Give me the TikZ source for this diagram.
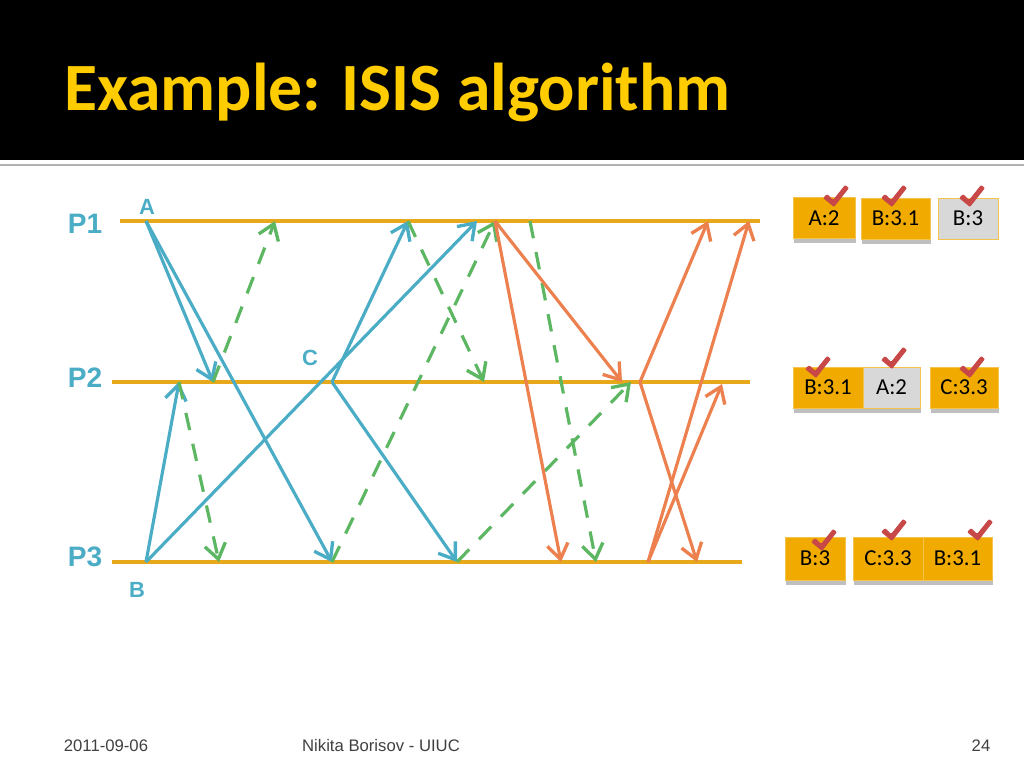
\documentclass[tikz,border=0pt]{standalone}
\usepackage{fontspec}
\setmainfont{Liberation Sans}
\newfontfamily\carlito{Carlito}
\usetikzlibrary{arrows.meta, shadows}
\definecolor{titleyellow}{RGB}{255,204,0}
\definecolor{lineorange}{RGB}{232,168,28}
\definecolor{msgblue}{RGB}{75,172,198}
\definecolor{msggreen}{RGB}{92,182,98}
\definecolor{msgorange}{RGB}{236,128,78}
\definecolor{boxorange}{RGB}{240,170,0}
\definecolor{boxgray}{RGB}{216,216,216}
\definecolor{tickred}{RGB}{200,72,72}
\definecolor{footgray}{RGB}{64,64,64}
\tikzset{
    slidetitle/.style={text=titleyellow, inner sep=0pt, font=\carlito\bfseries\fontsize{38.5}{42}\selectfont},
    timeline/.style={draw=lineorange, line width=2.4pt},
    procname/.style={text=msgblue, inner sep=0pt, font=\bfseries\fontsize{16}{18}\selectfont},
    evname/.style={text=msgblue, inner sep=0pt, font=\bfseries\fontsize{12.5}{14}\selectfont},
    arrow/.style={-{Straight Barb[length=3mm, width=4.2mm, line width=1.9pt]}, line width=1.8pt},
    bluemsg/.style={arrow, draw=msgblue},
    greenmsg/.style={arrow, draw=msggreen, dash pattern=on 10pt off 8pt},
    orangemsg/.style={arrow, draw=msgorange},
    msgbox/.style={rectangle, draw=boxorange!70!white, fill=boxorange, line width=0.5pt, minimum height=0.82cm, inner sep=0pt, font=\carlito\fontsize{13}{15}\selectfont},
    graybox/.style={msgbox, fill=boxgray},
    shadowed/.style={drop shadow={shadow xshift=0.8pt, shadow yshift=-2.6pt, opacity=0.5}},
    footer/.style={text=footgray, inner sep=0pt, font=\fontsize{9.5}{11}\selectfont},
    tickmark/.pic={\fill[tickred, rounded corners=0.6pt] (-10,-7) -- (-6,-11) -- (0,-5) -- (12,-20) -- (16,-17) -- (1,2) -- cycle;}
}
\begin{document}
\begin{tikzpicture}[x=0.02cm, y=-0.02cm]
\useasboundingbox (0,0) rectangle (1024,768);
\fill[black] (0,0) rectangle (1024,160);
\draw[gray!60, line width=1.4pt] (0,165) -- (1024,165);
\node[slidetitle, anchor=base west] (title) at (64,110) {Example: ISIS algorithm};

\draw[timeline] (120,221) -- (760,221);
\draw[timeline] (112,382) -- (750,382);
\draw[timeline] (112,562) -- (742,562);
\node[procname] (p1) at (85,224) {P1};
\node[procname] (p2) at (85,378) {P2};
\node[procname] (p3) at (85,557) {P3};
\node[evname] (la) at (147,207) {A};
\node[evname] (lc) at (310,358) {C};
\node[evname] (lb) at (137,590) {B};

\coordinate (a) at (146,221);
\coordinate (b) at (146,562);
\coordinate (c) at (332,382);
\coordinate (a2) at (213,382);
\coordinate (a3) at (332,562);
\coordinate (b2) at (179,382);
\coordinate (b1) at (477,221);
\coordinate (c1) at (408,221);
\coordinate (c3) at (457,562);
\coordinate (g1) at (275,221);
\coordinate (g2) at (219,562);
\coordinate (g3) at (484,382);
\coordinate (g4) at (495,221);
\coordinate (g5s) at (530,221);
\coordinate (g5) at (596,562);
\coordinate (g6) at (631,382);
\coordinate (o1) at (622,382);
\coordinate (o2) at (561,562);
\coordinate (o3s) at (640,382);
\coordinate (o3) at (708,221);
\coordinate (o4) at (697,562);
\coordinate (o5s) at (648,562);
\coordinate (o5) at (749,221);
\coordinate (o6) at (722,384);

\draw[bluemsg] (a) -- (a2);
\draw[bluemsg] (a) -- (a3);
\draw[bluemsg] (b) -- (b2);
\draw[bluemsg] (b) -- (b1);
\draw[bluemsg] (c) -- (c1);
\draw[bluemsg] (c) -- (c3);
\draw[greenmsg] (a2) -- (g1);
\draw[greenmsg] (b2) -- (g2);
\draw[greenmsg] (c1) -- (g3);
\draw[greenmsg] (a3) -- (g4);
\draw[greenmsg] (g5s) -- (g5);
\draw[greenmsg] (c3) -- (g6);
\draw[orangemsg] (g4) -- (o1);
\draw[orangemsg] (g4) -- (o2);
\draw[orangemsg] (o3s) -- (o3);
\draw[orangemsg] (o3s) -- (o4);
\draw[orangemsg] (o5s) -- (o5);
\draw[orangemsg] (o5s) -- (o6);

\node[msgbox, shadowed, minimum width=1.24cm] (q1a) at (824,218) {A:2};
\node[msgbox, shadowed, minimum width=1.38cm] (q1b) at (895.5,218.5) {B:3.1};
\node[graybox, minimum width=1.2cm] (q1c) at (968,218.5) {B:3};
\node[msgbox, shadowed, minimum width=1.4cm] (q2a) at (828,387.5) {B:3.1};
\node[graybox, shadowed, minimum width=1.14cm] (q2b) at (891.5,387.5) {A:2};
\node[msgbox, shadowed, minimum width=1.36cm] (q2c) at (964,387.5) {C:3.3};
\node[msgbox, shadowed, minimum width=1.2cm, minimum height=0.86cm] (q3a) at (815,558.5) {B:3};
\node[msgbox, shadowed, minimum width=1.4cm, minimum height=0.86cm] (q3b) at (888,558.5) {C:3.3};
\node[msgbox, shadowed, minimum width=1.38cm, minimum height=0.86cm] (q3c) at (957.5,558.5) {B:3.1};

\pic at (833,205) {tickmark};
\pic at (891,205) {tickmark};
\pic at (969,205) {tickmark};
\pic at (815,376) {tickmark};
\pic at (891,367) {tickmark};
\pic at (969,376) {tickmark};
\pic at (821,549) {tickmark};
\pic at (891,539) {tickmark};
\pic at (977,539) {tickmark};

\node[footer] (date) at (106,746) {2011-09-06};
\node[footer] (author) at (381,746) {Nikita Borisov - UIUC};
\node[footer] (page) at (981,746) {24};
\end{tikzpicture}
\end{document}
